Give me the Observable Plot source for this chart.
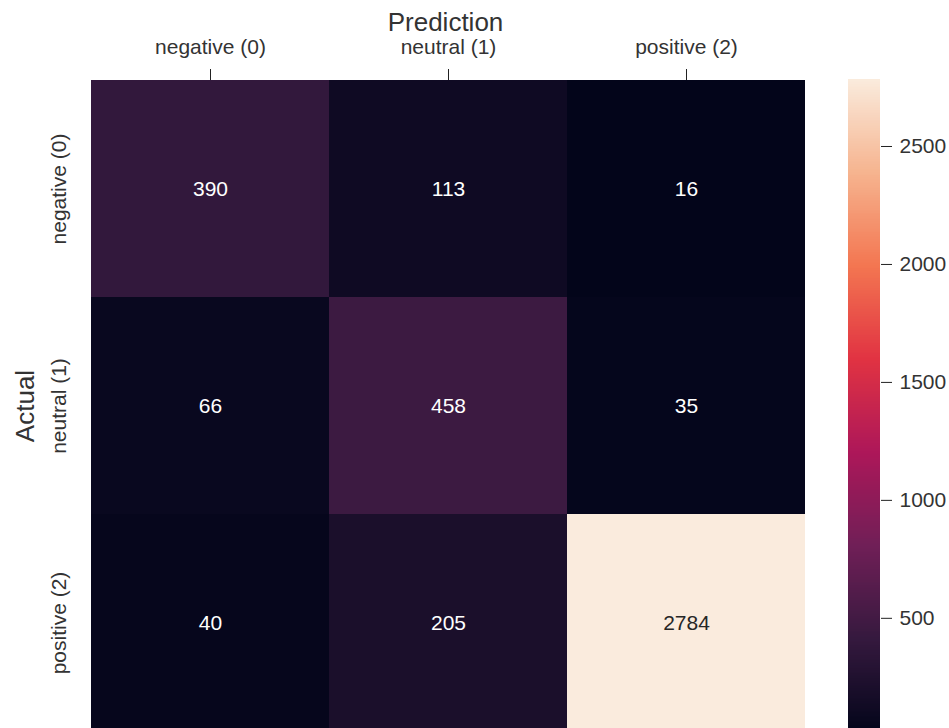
<!DOCTYPE html>
<html>
<head>
<meta charset="utf-8">
<script src="https://cdn.jsdelivr.net/npm/d3@7"></script>
<script src="https://cdn.jsdelivr.net/npm/@observablehq/plot@0.6"></script>
<style>
  html, body { margin: 0; padding: 0; background: #fff; overflow: hidden; }
  #wrap { position: relative; width: 949px; height: 728px; overflow: hidden; background: #fff; }
  #wrap svg { position: absolute; top: 0; }
</style>
</head>
<body>
<div id="wrap"></div>
<script>
// ---- data ----
const predictedLabels = ["negative (0)", "neutral (1)", "positive (2)"];
const actualLabels = ["negative (0)", "neutral (1)", "positive (2)"];
const countsRow0 = [390, 113, 16];
const countsRow1 = [66, 458, 35];
const countsRow2 = [40, 205, 2784];
const colorbarTicks = [500, 1000, 1500, 2000, 2500];
const xTitle = "Prediction";
const yTitle = "Actual";

// rocket colormap stops
const rocketStops = ["#03051a", "#35193e", "#701f57", "#ad1759", "#e13342", "#f37651", "#f6b48f", "#faebdd"];
const rocket = d3.piecewise(d3.interpolateRgb, rocketStops);

const rows = [countsRow0, countsRow1, countsRow2];
const cells = [];
rows.forEach((r, i) => r.forEach((v, j) => cells.push({actual: actualLabels[i], pred: predictedLabels[j], value: v})));
const vmin = d3.min(cells, d => d.value);
const vmax = d3.max(cells, d => d.value);
const colorScale = {type: "linear", domain: [vmin, vmax], interpolate: (t) => rocket(t)};
const font = "'Liberation Sans', Arial, Helvetica, sans-serif";
const textColor = "#333";
const fs = 21;

const heat = Plot.plot({
  width: 949,
  height: 760,
  marginTop: 79,
  marginBottom: 28,
  marginLeft: 91,
  marginRight: 144,
  style: {fontFamily: font, background: "white"},
  x: {type: "band", domain: predictedLabels, padding: 0},
  y: {type: "band", domain: actualLabels, padding: 0, axis: null},
  color: colorScale,
  marks: [
    Plot.cell(cells, {x: "pred", y: "actual", fill: "value", inset: 0, shapeRendering: "crispEdges"}),
    Plot.text(cells, {filter: d => d.value < 2000, x: "pred", y: "actual", text: d => String(d.value), fill: "white", fontSize: fs}),
    Plot.text(cells, {filter: d => d.value >= 2000, x: "pred", y: "actual", text: d => String(d.value), fill: "#262626", fontSize: fs}),
    Plot.axisX({anchor: "top", tickSize: 11, tickPadding: 15, fontSize: fs, label: null, color: textColor, stroke: "#222"}),
    Plot.text(actualLabels, {y: d => d, text: d => d, frameAnchor: "left", textAnchor: "middle", dx: -26, rotate: -90, lineAnchor: "bottom", fontSize: fs, fill: textColor}),
    Plot.text([xTitle], {text: d => d, frameAnchor: "top", textAnchor: "middle", dx: -3, dy: -49, lineAnchor: "bottom", fontSize: 26, fill: textColor}),
    Plot.text([yTitle], {text: d => d, frameAnchor: "left", textAnchor: "middle", dx: -58, rotate: -90, lineAnchor: "bottom", fontSize: 26, fill: textColor})
  ]
});
heat.style.left = "0px";
document.getElementById("wrap").appendChild(heat);

// colorbar
const nBands = 400;
const step = (vmax - vmin) / nBands;
const bands = d3.range(nBands).map(i => ({y1: vmin + i * step, y2: vmin + (i + 1) * step + step * 0.5, v: vmin + (i + 0.5) * step}));
const bar = Plot.plot({
  width: 101,
  height: 760,
  marginTop: 79,
  marginBottom: 28,
  marginLeft: 0,
  marginRight: 69,
  style: {fontFamily: font, background: "transparent", overflow: "visible"},
  x: {domain: [0, 1], axis: null},
  y: {domain: [vmin, vmax], axis: null},
  color: colorScale,
  marks: [
    Plot.rect(bands, {x1: 0, x2: 1, y1: "y1", y2: d => Math.min(d.y2, vmax), fill: "v", shapeRendering: "crispEdges"}),
    Plot.axisY({anchor: "right", ticks: colorbarTicks, tickSize: 11, tickPadding: 8, fontSize: fs, tickFormat: d => String(d), label: null, color: textColor, stroke: "#222"})
  ]
});
bar.style.left = "848px";
document.getElementById("wrap").appendChild(bar);
</script>
</body>
</html>
